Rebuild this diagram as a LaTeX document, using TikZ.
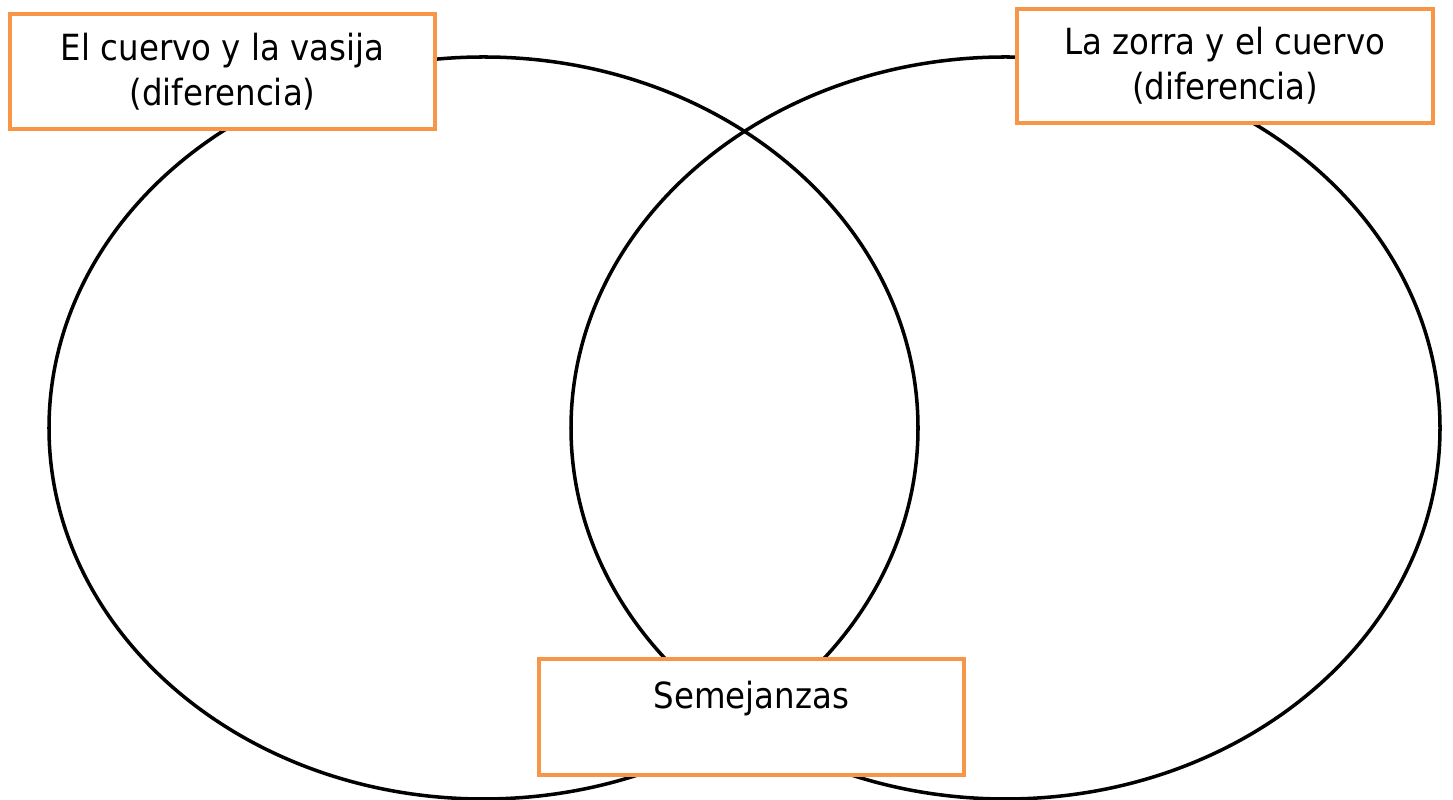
\documentclass[tikz,border=0pt]{standalone}
\usepackage{fontspec}
\setmainfont{DejaVu Sans Condensed}
\usetikzlibrary{positioning}
\definecolor{boxorange}{HTML}{F79646}
\tikzset{titlebox/.style = {draw = boxorange, line width = 2.3pt, fill = white, align = center, inner sep = 0pt}}

\begin{document}
\begin{tikzpicture}
		\fontsize{20.5}{25.6}\selectfont
		\useasboundingbox (0,0) rectangle (29.06,16);
		\draw [line width = 2pt] (9.67,7.44) ellipse [x radius = 8.69cm, y radius = 7.42cm];
		\draw [line width = 2pt] (20.11,7.44) ellipse [x radius = 8.69cm, y radius = 7.42cm];
		\node [titlebox, minimum width = 8.5cm, minimum height = 2.3cm] (vasija) at (4.45,14.57) {El cuervo y la vasija\\(diferencia)};
		\node [titlebox, minimum width = 8.32cm, minimum height = 2.28cm] (zorra) at (24.5,14.68) {La zorra y el cuervo\\(diferencia)};
		\node [titlebox, minimum width = 8.5cm, minimum height = 2.32cm] (semejanzas) at (15.03,1.66) {Semejanzas\\\mbox{}};
	\end{tikzpicture}
\end{document}
